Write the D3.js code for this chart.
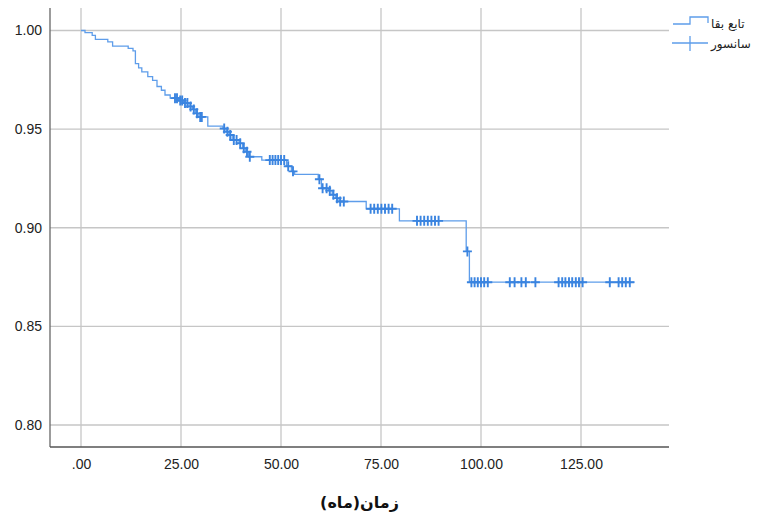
<!DOCTYPE html>
<html>
<head>
<meta charset="utf-8">
<script src="https://cdn.jsdelivr.net/npm/d3@7"></script>
<style>
  body { margin: 0; background: #fff; }
  svg { display: block; font-family: "Liberation Sans", Arial, "DejaVu Sans", sans-serif; }
</style>
</head>
<body>
<svg id="chart" width="757" height="517"></svg>
<script>
// Kaplan-Meier step events (time in months, survival after the event)
const eventTimes = [1.0, 2.8, 3.6, 6.7, 7.9, 11.8, 13.0, 13.6, 14.4, 15.2, 16.7, 17.9, 19.0, 20.1, 21.0, 22.3,
  24.4, 25.7, 27.0, 27.9, 28.6, 29.3, 31.7, 35.5, 36.3, 37.0, 37.8, 39.5, 40.4, 41.2, 41.9, 45.2,
  51.4, 52.6, 53.4, 59.3, 60.1, 61.9, 62.8, 63.7, 64.5, 71.3, 79.6, 96.3, 97.1];
const eventSurv = [0.9989, 0.9975, 0.9955, 0.9942, 0.9921, 0.9909, 0.9897, 0.9832, 0.9810, 0.9790, 0.9766, 0.9747, 0.9716, 0.9697, 0.9673, 0.9657,
  0.9645, 0.9632, 0.9615, 0.9600, 0.9580, 0.9562, 0.9515, 0.9503, 0.9487, 0.9470, 0.9445, 0.9428, 0.9403, 0.9385, 0.9360, 0.9343,
  0.9312, 0.9286, 0.9271, 0.9246, 0.9200, 0.9188, 0.9167, 0.9150, 0.9133, 0.9096, 0.9035, 0.8880, 0.8724];
// censored observations
const censorTimes = [23.5, 24.0, 24.8, 25.3, 26.0, 26.6, 27.4, 28.2, 29.0, 29.8, 30.2,
  35.8, 36.6, 37.3, 38.2, 38.9, 39.8, 40.7, 41.5, 42.2,
  47.2, 47.9, 48.6, 49.3, 50.0, 50.8, 51.8, 53.0,
  59.6, 60.4, 61.4, 62.2, 63.1, 64.0, 64.8, 65.7,
  72.4, 73.3, 74.2, 75.1, 76.0, 76.9, 77.8,
  84.0, 84.9, 85.8, 86.7, 87.6, 88.5, 89.4,
  96.6,
  97.6, 98.4, 99.2, 100.0, 100.8, 101.7,
  107.2, 108.4, 110.1, 111.2, 113.6,
  119.4, 120.3, 121.1, 122.0, 122.8, 123.7, 124.5, 125.4,
  132.2, 134.4, 135.3, 136.2, 137.2];
const endTime = 138.4;

const xTicks = [0, 25, 50, 75, 100, 125];
const xTickLabels = [".00", "25.00", "50.00", "75.00", "100.00", "125.00"];
const yTicks = [0.80, 0.85, 0.90, 0.95, 1.00];
const yTickLabels = ["0.80", "0.85", "0.90", "0.95", "1.00"];
const xTitle = "زمان(ماه)";
const legendLabels = ["تابع بقا", "سانسور"];

const svg = d3.select("#chart");
const plotLeft = 50, plotRight = 669, plotTop = 8, plotBottom = 447;

const x = d3.scaleLinear().domain([-7.75, 147]).range([plotLeft, plotRight]);
const y = d3.scaleLinear().domain([0.78885, 1.0114]).range([plotBottom, plotTop]);

const lineColor = "#5e9dea";
const markColor = "#3a84e0";

// gridlines
svg.append("g")
  .selectAll("line")
  .data(yTicks)
  .join("line")
  .attr("x1", plotLeft).attr("x2", plotRight)
  .attr("y1", d => y(d)).attr("y2", d => y(d))
  .attr("stroke", "#c6c6c6").attr("stroke-width", 1.3);

svg.append("g")
  .selectAll("line")
  .data(xTicks)
  .join("line")
  .attr("x1", d => x(d)).attr("x2", d => x(d))
  .attr("y1", plotTop).attr("y2", plotBottom)
  .attr("stroke", "#c6c6c6").attr("stroke-width", 1.3);

// axes
const yAxis = svg.append("g")
  .attr("transform", `translate(${plotLeft},0)`)
  .call(d3.axisLeft(y).tickValues(yTicks).tickSize(0).tickPadding(8)
    .tickFormat((d, i) => yTickLabels[i]));
yAxis.select(".domain").remove();

const xAxis = svg.append("g")
  .attr("transform", `translate(0,${plotBottom})`)
  .call(d3.axisBottom(x).tickValues(xTicks).tickSize(0).tickPadding(12)
    .tickFormat((d, i) => xTickLabels[i]));
xAxis.select(".domain").remove();

svg.selectAll(".tick text")
  .attr("font-size", 14)
  .attr("fill", "#222")
  .attr("font-family", "'Liberation Sans', Arial, sans-serif");

svg.append("line")
  .attr("x1", plotLeft).attr("x2", plotLeft).attr("y1", plotTop).attr("y2", plotBottom)
  .attr("stroke", "#666").attr("stroke-width", 1.3);
svg.append("line")
  .attr("x1", plotLeft).attr("x2", plotRight).attr("y1", plotBottom).attr("y2", plotBottom)
  .attr("stroke", "#555").attr("stroke-width", 1.6);

// survival step path
let pathD = `M${x(0)},${y(1)}`;
eventTimes.forEach((t, i) => {
  pathD += `H${x(t)}V${y(eventSurv[i])}`;
});
pathD += `H${x(endTime)}`;

svg.append("path")
  .attr("d", pathD)
  .attr("fill", "none")
  .attr("stroke", lineColor)
  .attr("stroke-width", 1.3);

// survival value at time t
const survAt = t => {
  let s = 1;
  eventTimes.forEach((et, i) => { if (et <= t) s = eventSurv[i]; });
  return s;
};

svg.append("g")
  .attr("stroke", markColor)
  .attr("stroke-width", 1.9)
  .selectAll("path")
  .data(censorTimes)
  .join("path")
  .attr("d", t => {
    const cx = x(t), cy = y(survAt(t));
    return `M${cx - 4.5},${cy}H${cx + 4.5}M${cx},${cy - 5}V${cy + 5}`;
  });

// x title
svg.append("text")
  .attr("x", (plotLeft + plotRight) / 2)
  .attr("y", 508)
  .attr("text-anchor", "middle")
  .attr("font-size", 16)
  .attr("font-weight", "bold")
  .attr("fill", "#111")
  .attr("font-family", "'DejaVu Sans', sans-serif")
  .text(xTitle);

// legend
const lg = svg.append("g");
lg.append("path")
  .attr("d", "M673,24H690V17H708V23")
  .attr("fill", "none")
  .attr("stroke", lineColor)
  .attr("stroke-width", 1.3);
lg.append("path")
  .attr("d", "M672,43H708M690,36V51")
  .attr("fill", "none")
  .attr("stroke", lineColor)
  .attr("stroke-width", 1.3);
lg.selectAll("text")
  .data(legendLabels)
  .join("text")
  .attr("x", 711)
  .attr("y", (d, i) => 28 + i * 20)
  .attr("font-size", 12)
  .attr("fill", "#222")
  .attr("font-family", "'DejaVu Sans', sans-serif")
  .text(d => d);
</script>
</body>
</html>
